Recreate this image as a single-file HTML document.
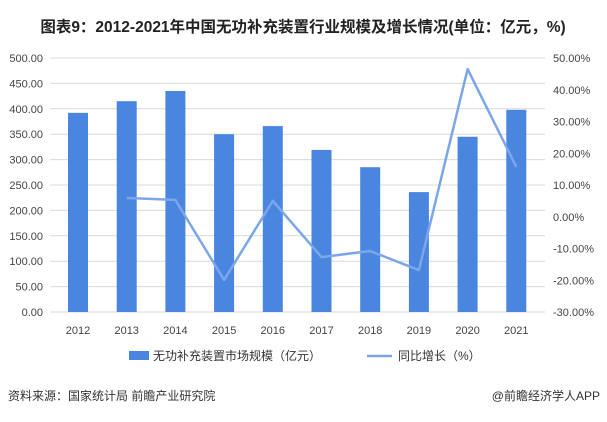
<!DOCTYPE html>
<html><head><meta charset="utf-8">
<style>
body{margin:0;background:#fff;width:607px;height:417px;overflow:hidden;font-family:"Liberation Sans","Noto Sans CJK SC",sans-serif;}
svg text{font-family:"Liberation Sans","Noto Sans CJK SC",sans-serif;}
</style></head>
<body>
<svg id="chart" width="607" height="417">
<text x="303" y="32" text-anchor="middle" font-size="15.5" font-weight="bold" fill="#222">图表9：2012-2021年中国无功补充装置行业规模及增长情况(单位：亿元，%)</text>
<g id="grid"></g><g id="bars"></g><g id="line"></g><g id="axes"></g>
<g>
<rect x="129" y="351" width="20" height="9" fill="#4a86e0"/>
<text x="153" y="360" font-size="12" fill="#333">无功补充装置市场规模（亿元）</text>
<line x1="367" y1="356" x2="392" y2="356" stroke="#7ba7ea" stroke-width="2.5"/>
<text x="398" y="360" font-size="12" fill="#333">同比增长（%）</text>
</g>
<text x="8" y="400" font-size="12" fill="#333">资料来源：国家统计局 前瞻产业研究院</text>
<text x="600" y="400" font-size="12" fill="#333" text-anchor="end">@前瞻经济学人APP</text>
</svg>
<script>
const years=["2012","2013","2014","2015","2016","2017","2018","2019","2020","2021"];
const sizes=[392,415,435,350,366,319,285,236,345,398];
const growth=[null,5.9,5.3,-19.9,5.0,-12.7,-10.8,-16.8,46.5,15.7];
const leftTicks=[0,50,100,150,200,250,300,350,400,450,500];
const rightTicks=[-30,-20,-10,0,10,20,30,40,50];
const NS="http://www.w3.org/2000/svg";
const plotTop=58,plotBot=312,x0=78,step=48.7;
const yL=v=>plotBot-(v/500)*(plotBot-plotTop);
const yR=v=>plotBot-((v+30)/80)*(plotBot-plotTop);
const xC=i=>x0+i*step;
function mk(t,a,p){const e=document.createElementNS(NS,t);for(const k in a)e.setAttribute(k,a[k]);p.appendChild(e);return e;}
const grid=document.getElementById('grid'),axes=document.getElementById('axes'),bars=document.getElementById('bars'),lineG=document.getElementById('line');
leftTicks.forEach(v=>{
 const l=mk('line',{x1:50,x2:545,y1:yL(v),y2:yL(v),stroke:'#d9d9d9','stroke-width':1},grid);
 
 
 const t=mk('text',{x:43,y:yL(v)+4,'text-anchor':'end','font-size':11,fill:'#444'},axes);t.textContent=v.toFixed(2);
 
 
});
rightTicks.forEach(v=>{
 const t=mk('text',{x:553,y:yR(v)+4,'font-size':11,fill:'#444'},axes);t.textContent=v.toFixed(2)+'%';
 
 
});
years.forEach((y,i)=>{
 const b=mk('rect',{x:xC(i)-10,y:yL(sizes[i]),width:20,height:plotBot-yL(sizes[i]),fill:'#4a86e0'},bars);
 
 
 const t=mk('text',{x:xC(i),y:334,'text-anchor':'middle','font-size':11,fill:'#444'},axes);t.textContent=y;
 
 
});
let d='';growth.forEach((g,i)=>{if(g===null)return;d+=(d?'L':'M')+xC(i)+','+yR(g);});
const p=mk('path',{d:d,fill:'none',stroke:'#7ba7ea','stroke-width':2.5,'stroke-linejoin':'round'},lineG);


</script>
</body></html>
